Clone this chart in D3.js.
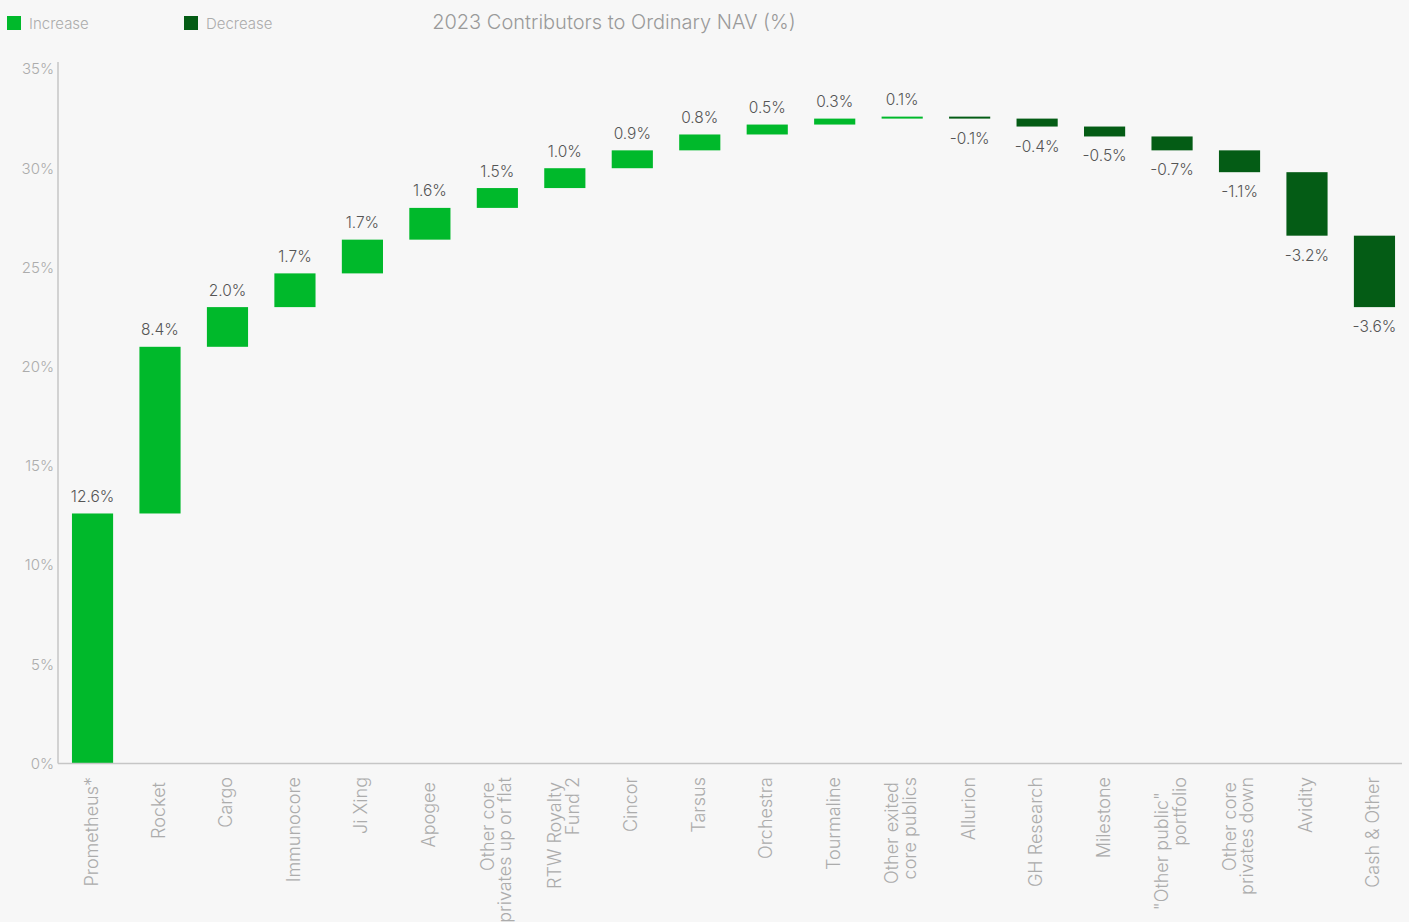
<!DOCTYPE html>
<html>
<head>
<meta charset="utf-8">
<script src="https://cdn.jsdelivr.net/npm/d3@7"></script>
<style>
  html, body { margin: 0; padding: 0; background: #f7f7f7; }
  svg { display: block; }
  text { font-family: Inter, "Liberation Sans", sans-serif; font-weight: 300; white-space: pre; }
</style>
</head>
<body>
<svg id="chart" width="1409" height="922"></svg>
<script>
// ---- data ----
const categories = [
  "Prometheus*", "Rocket ", "Cargo", "Immunocore", "Ji Xing", "Apogee ",
  "Other core \nprivates up or flat", "RTW Royalty \nFund 2", "Cincor", "Tarsus",
  "Orchestra", "Tourmaline", "Other exited \ncore publics", "Allurion",
  "GH Research", "Milestone", "\"Other public\"   \nportfolio",
  "Other core \nprivates down", "Avidity", "Cash & Other"
];
// bar heights as drawn (percentage points)
const values = [12.6, 8.4, 2.0, 1.7, 1.7, 1.6, 1.0, 1.0, 0.9, 0.8, 0.5, 0.3, 0.1,
                -0.1, -0.4, -0.5, -0.7, -1.1, -3.2, -3.6];
// data labels as printed
const valueLabels = ["12.6%", "8.4%", "2.0%", "1.7%", "1.7%", "1.6%", "1.5%", "1.0%",
  "0.9%", "0.8%", "0.5%", "0.3%", "0.1%", "-0.1%", "-0.4%", "-0.5%", "-0.7%",
  "-1.1%", "-3.2%", "-3.6%"];
const yTicks = [0, 5, 10, 15, 20, 25, 30, 35];
const legendItems = ["Increase", "Decrease"];
const title = "2023 Contributors to Ordinary NAV (%)";

// ---- layout ----
const W = 1409, H = 922;
const FONT = "Inter, 'Liberation Sans', sans-serif";
const colors = { Increase: "#00b92b", Decrease: "#045c15" };
const svg = d3.select("#chart");
svg.append("rect").attr("width", W).attr("height", H).attr("fill", "#f7f7f7");

const x = d3.scaleBand().domain(d3.range(categories.length))
  .range([58.8, 1408.2]).paddingInner(0.39).paddingOuter(0.195);
const y = d3.scaleLinear().domain([0, 35]).range([763.5, 69]);

// waterfall
let cum = 0;
const bars = values.map((v, i) => {
  const start = cum; cum += v;
  return { i, v, start, end: cum, label: valueLabels[i] };
});

// axes
svg.append("line").attr("x1", 58).attr("x2", 58).attr("y1", 62).attr("y2", y(0))
  .attr("stroke", "#c6c6c6").attr("stroke-width", 1.5);

const yAxis = d3.axisLeft(y).tickValues(yTicks).tickSize(0).tickPadding(0)
  .tickFormat(d => d + "%");
const gy = svg.append("g").attr("transform", "translate(54,0)").call(yAxis);
gy.select(".domain").remove();
gy.selectAll("text").attr("fill", "#acacac").style("font-size", "15px")
  .style("font-family", FONT).style("font-weight", 300);

// bars
svg.append("g").selectAll("rect").data(bars).join("rect")
  .attr("x", d => x(d.i))
  .attr("width", x.bandwidth())
  .attr("y", d => y(Math.max(d.start, d.end)))
  .attr("height", d => Math.abs(y(d.start) - y(d.end)))
  .attr("fill", d => d.v >= 0 ? colors.Increase : colors.Decrease);

// x axis line
svg.append("line").attr("x1", 58).attr("x2", 1402).attr("y1", y(0)).attr("y2", y(0))
  .attr("stroke", "#c6c6c6").attr("stroke-width", 1.5);

// value labels
svg.append("g").selectAll("text").data(bars).join("text")
  .attr("x", d => x(d.i) + x.bandwidth() / 2)
  .attr("y", d => d.v >= 0 ? y(d.end) - 11.5 : y(d.end) + 25)
  .attr("text-anchor", "middle")
  .attr("fill", "#555")
  .style("font-size", "15.5px")
  .text(d => d.label);

// category labels (rotated)
const lineH = 17.5;
const cg = svg.append("g").selectAll("g").data(categories).join("g")
  .attr("transform", (d, i) => `translate(${x(i) + x.bandwidth() / 2},777) rotate(-90)`);
cg.each(function (d) {
  const lines = d.split("\n");
  const n = lines.length;
  d3.select(this).selectAll("text").data(lines).join("text")
    .attr("x", 0)
    .attr("y", (l, k) => 5 + (k - (n - 1) / 2) * lineH)
    .attr("text-anchor", "end")
    .attr("fill", "#acacac")
    .style("font-size", "18px")
    .text(l => l);
});

// legend
const lg = svg.append("g").selectAll("g").data(legendItems).join("g")
  .attr("transform", (d, i) => `translate(${7 + i * 177},16)`);
lg.append("rect").attr("width", 14).attr("height", 14).attr("fill", d => colors[d]);
lg.append("text").attr("x", 22).attr("y", 12.5).attr("fill", "#acacac")
  .style("font-size", "15px").text(d => d);

// title
svg.append("text").attr("x", 614).attr("y", 29).attr("text-anchor", "middle")
  .attr("fill", "#9a9a9a").style("font-size", "20px").text(title);
</script>
</body>
</html>
